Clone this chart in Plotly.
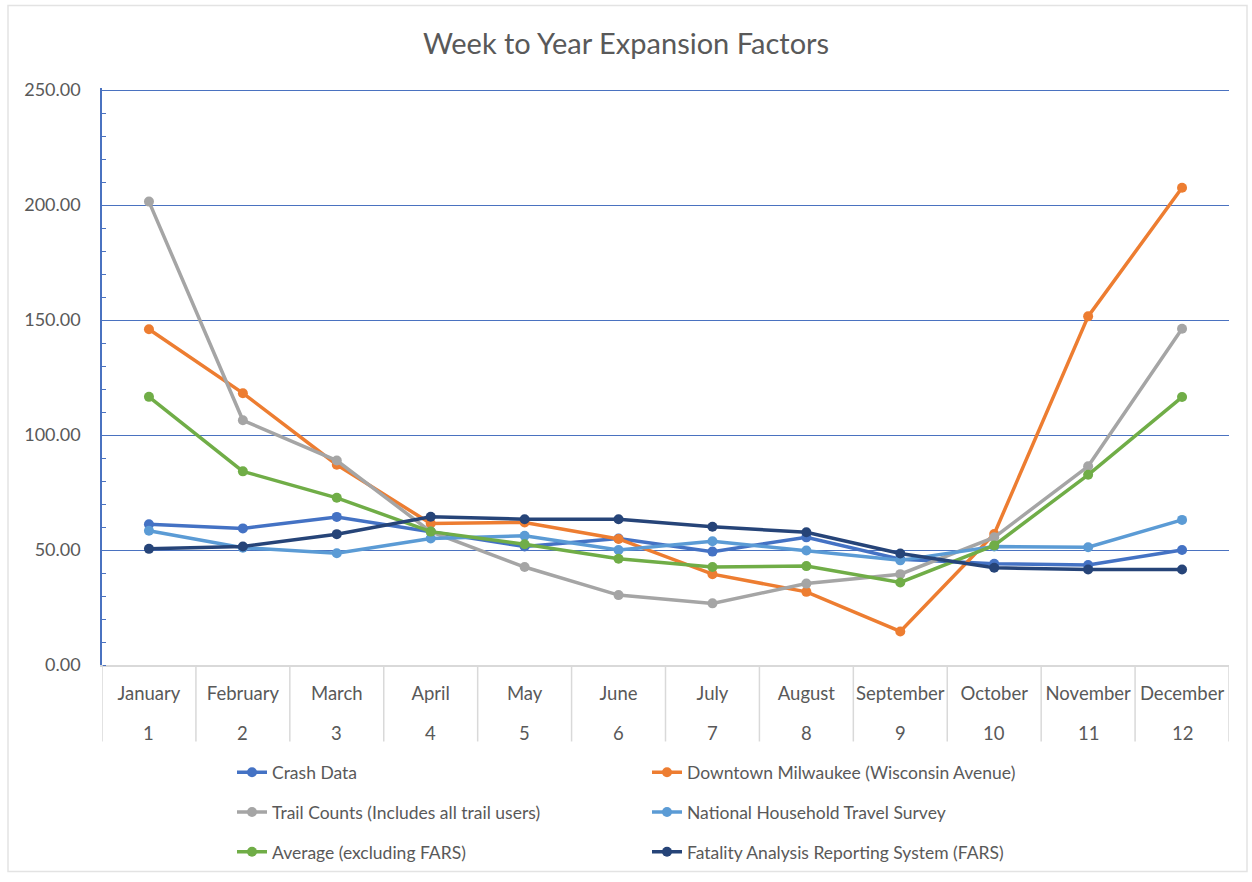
import plotly.graph_objects as go

months = ["January", "February", "March", "April", "May", "June", "July",
          "August", "September", "October", "November", "December"]
month_nums = ["1", "2", "3", "4", "5", "6", "7", "8", "9", "10", "11", "12"]

crash_data = [61.2, 59.4, 64.4, 58.0, 51.5, 55.0, 49.3, 55.5, 46.0, 44.0, 43.5, 50.0]
downtown_milwaukee = [146.0, 118.2, 87.1, 61.5, 62.0, 54.8, 39.5, 31.8, 14.6, 57.0, 151.6, 207.5]
trail_counts = [201.5, 106.4, 88.9, 58.0, 42.6, 30.4, 26.8, 35.4, 39.5, 55.5, 86.4, 146.2]
nhts = [58.4, 51.0, 48.6, 55.0, 56.2, 50.0, 53.8, 49.8, 45.5, 51.5, 51.2, 63.1]
average_excl_fars = [116.6, 84.2, 72.7, 58.0, 52.5, 46.2, 42.6, 43.0, 35.9, 52.0, 82.7, 116.5]
fars = [50.5, 51.5, 56.9, 64.5, 63.4, 63.4, 60.1, 57.7, 48.5, 42.3, 41.5, 41.5]

series = [
    ("Crash Data", crash_data, "#4472C4", "legend"),
    ("Downtown Milwaukee (Wisconsin Avenue)", downtown_milwaukee, "#ED7D31", "legend2"),
    ("Trail Counts (Includes all trail users)", trail_counts, "#A5A5A5", "legend"),
    ("National Household Travel Survey", nhts, "#5B9BD5", "legend2"),
    ("Average (excluding FARS)", average_excl_fars, "#70AD47", "legend"),
    ("Fatality Analysis Reporting System (FARS)", fars, "#264478", "legend2"),
]

FONT = "Lato"
TXT = "#595959"
TOP, BOT = 88, 213
PLOT_H = 882 - TOP - BOT
AX_Y = 882 - BOT  # pixel row of the category axis

fig = go.Figure()
for name, vals, color, leg in series:
    fig.add_trace(go.Scatter(
        x=months, y=vals, name=name, mode="lines+markers",
        line=dict(color=color, width=3.5),
        marker=dict(color=color, size=10),
        legend=leg, legendgroup=name,
    ))

# category separators of the two-level axis
dividers = [dict(type="line", xref="x", yref="paper", x0=i - 0.5, x1=i - 0.5,
                 y0=0, y1=-(746 - AX_Y) / PLOT_H, line=dict(color="#D9D9D9", width=1.5))
            for i in range(len(months) + 1)]

# second level of the category axis (month numbers)
num_labels = [dict(x=m, xref="x", y=-(737 - AX_Y) / PLOT_H, yref="paper",
                   text=n, showarrow=False, yanchor="middle", xanchor="center",
                   font=dict(family=FONT, size=18.5, color=TXT))
              for m, n in zip(months, month_nums)]

fig.update_layout(
    width=1252, height=882,
    margin=dict(l=102, r=23, t=TOP, b=BOT),
    paper_bgcolor="white", plot_bgcolor="white",
    font=dict(family=FONT, color=TXT, size=17),
    title=dict(text="Week to Year Expansion Factors", x=0.5, xanchor="center",
               y=1 - 44 / 882, yanchor="middle",
               font=dict(family=FONT, size=29, color=TXT)),
    showlegend=True,
    legend=dict(orientation="v", x=(232 - 102) / 1127, xanchor="left",
                y=-(759 - AX_Y) / PLOT_H, yanchor="top", tracegroupgap=14,
                font=dict(family=FONT, size=17.5, color=TXT), bgcolor="rgba(0,0,0,0)"),
    legend2=dict(orientation="v", x=(647 - 102) / 1127, xanchor="left",
                 y=-(759 - AX_Y) / PLOT_H, yanchor="top", tracegroupgap=14,
                 font=dict(family=FONT, size=17.5, color=TXT), bgcolor="rgba(0,0,0,0)"),
    shapes=[dict(type="rect", xref="paper", yref="paper",
                 x0=-94 / 1127, x1=1145 / 1127,
                 y0=-(877 - AX_Y) / PLOT_H, y1=(AX_Y - 5) / PLOT_H,
                 line=dict(color="#E3E3E3", width=1.5), fillcolor="rgba(0,0,0,0)",
                 layer="below")] + dividers,
    annotations=num_labels,
)

fig.update_xaxes(
    type="category", range=[-0.5, len(months) - 0.5],
    tickvals=months, ticktext=months,
    showline=True, linecolor="#D9D9D9", linewidth=1.5,
    showgrid=False, ticks="", ticklabelstandoff=11,
    tickfont=dict(family=FONT, size=18.5, color=TXT),
)
fig.update_yaxes(
    range=[0, 250.9], tickvals=[0, 50, 100, 150, 200, 250], tickformat=".2f",
    showgrid=True, gridcolor="#4A72C0", gridwidth=1, zeroline=False,
    showline=True, linecolor="#4A72C0", linewidth=1.5,
    ticks="", ticklabelstandoff=16,
    minor=dict(dtick=10, ticks="inside", ticklen=4, tickcolor="#4A72C0", showgrid=False),
    tickfont=dict(family=FONT, size=18, color=TXT),
)

fig.write_html("out.html")
